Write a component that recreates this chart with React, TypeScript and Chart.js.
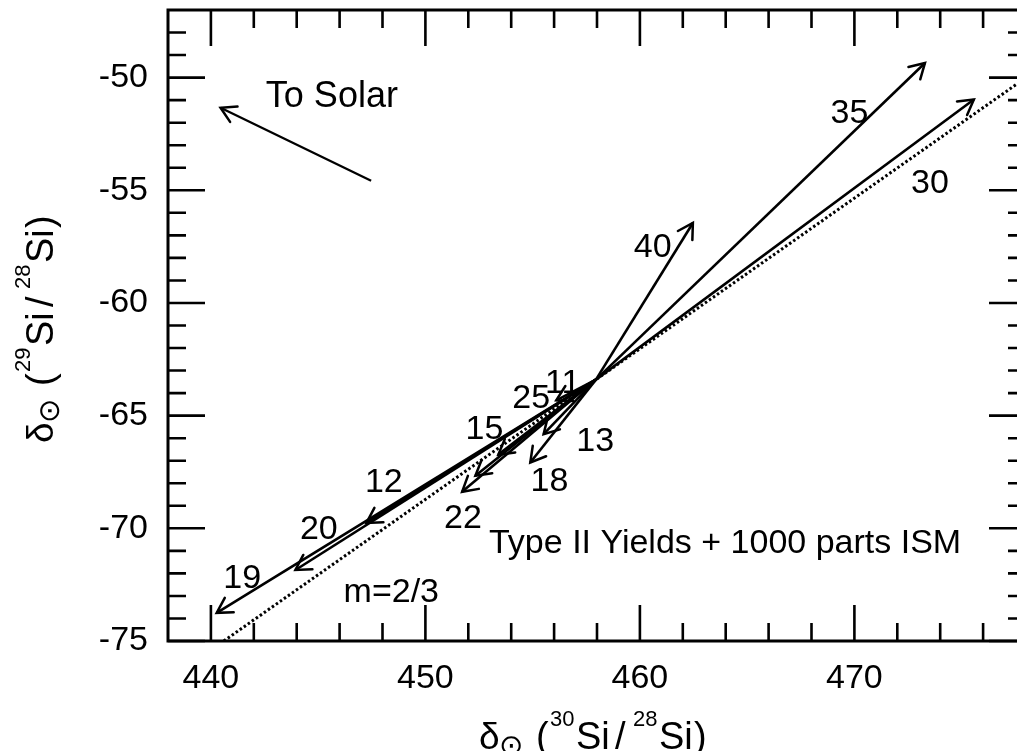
import React, { useEffect, useRef } from "react";
import { Chart, registerables } from "chart.js";

Chart.register(...registerables);

// ---------- data ----------
const ORIGIN_X = 457.95;
const ORIGIN_Y = -63.4;

const ARROW_LABELS = ["35", "30", "40", "11", "25", "15", "13", "18", "22", "12", "20", "19"];
const ARROW_END_X = [473.29, 475.57, 462.47, 456.1, 453.4, 452.33, 455.51, 454.89, 451.71, 447.25, 443.94, 440.27];
const ARROW_END_Y = [-49.35, -50.97, -56.45, -64.32, -66.73, -67.67, -65.82, -67.08, -68.38, -69.76, -71.85, -73.75];

// label anchor (text centre) for each arrow label
const ARROW_LABEL_X = [469.77, 473.52, 460.6, 456.4, 454.93, 452.75, 457.92, 455.78, 451.75, 448.06, 445.03, 441.46];
const ARROW_LABEL_Y = [-51.46, -54.59, -57.41, -63.44, -64.14, -65.52, -66.04, -67.83, -69.46, -67.87, -69.95, -72.11];

const SOLAR_X = [447.47, 440.45];
const SOLAR_Y = [-54.58, -51.34];

const SLOPE_X = [440.6, 478];
const SLOPE_Y = [-75.0, -50.0];

const X_MIN = 438;
const X_MAX = 478;
const Y_MIN = -75;
const Y_MAX = -47;

const X_TICKS = [440, 450, 460, 470];
const X_MINOR = [442, 444, 446, 448, 452, 454, 456, 458, 462, 464, 466, 468, 472, 474, 476];
const Y_TICKS = [-75, -70, -65, -60, -55, -50];
const Y_MINOR = [-74, -73, -72, -71, -69, -68, -67, -66, -64, -63, -62, -61, -59, -58, -57, -56, -54, -53, -52, -51, -49, -48];

const NOTE_TEXT = ["To Solar", "m=2/3", "Type II Yields + 1000 parts ISM"];
const NOTE_X = [445.64, 448.41, 463.97];
const NOTE_Y = [-50.75, -72.74, -70.58];
const NOTE_SIZE = [36, 34, 34];

// ---------- styles ----------
const FONT = '"Liberation Sans", Arial, Helvetica, sans-serif';
const SYM_FONT = '"DejaVu Sans", sans-serif';

type Run = { t: string; size: number; dx: number; dy: number; font?: string };
const makeTitle = (a: string, b: string): Run[] => [
  { t: "δ", size: 37, dx: 0, dy: 0 },
  { t: "⊙", size: 29, dx: 20, dy: 6, font: SYM_FONT },
  { t: "(", size: 38, dx: 57, dy: 0 },
  { t: a, size: 22, dx: 71, dy: -23 },
  { t: "Si", size: 38, dx: 97, dy: 0 },
  { t: "/", size: 38, dx: 136, dy: 0 },
  { t: b, size: 22, dx: 154, dy: -23 },
  { t: "Si", size: 38, dx: 180, dy: 0 },
  { t: ")", size: 38, dx: 215, dy: 0 },
];
const X_TITLE = makeTitle("30", "28");
const Y_TITLE = makeTitle("29", "28");

function drawRuns(ctx: CanvasRenderingContext2D, runs: Run[]) {
  for (const r of runs) {
    ctx.font = `${r.size}px ${r.font || FONT}`;
    ctx.fillText(r.t, r.dx, r.dy);
  }
}

const decorPlugin = {
  id: "decor",
  afterDatasetsDraw(chart: any) {
    const { ctx, chartArea: a } = chart;
    const xs = chart.scales.x;
    const ys = chart.scales.y;
    ctx.save();
    ctx.strokeStyle = "#000";
    ctx.fillStyle = "#000";

    // arrow heads
    ctx.lineWidth = 2.5;
    ctx.lineCap = "round";
    ctx.lineJoin = "miter";
    chart.data.datasets.forEach((ds: any, i: number) => {
      if (!ds.arrow) return;
      const pts = chart.getDatasetMeta(i).data;
      const p0 = pts[0];
      const p1 = pts[pts.length - 1];
      const ang = Math.atan2(p0.y - p1.y, p0.x - p1.x);
      const L = 17;
      const h = Math.PI / 6;
      ctx.beginPath();
      ctx.moveTo(p1.x + L * Math.cos(ang + h), p1.y + L * Math.sin(ang + h));
      ctx.lineTo(p1.x, p1.y);
      ctx.lineTo(p1.x + L * Math.cos(ang - h), p1.y + L * Math.sin(ang - h));
      ctx.stroke();
    });

    // frame
    ctx.lineCap = "butt";
    ctx.lineWidth = 3;
    ctx.strokeRect(a.left, a.top, a.right - a.left, a.bottom - a.top);

    // ticks (inward)
    ctx.lineWidth = 2.6;
    const xTick = (v: number, len: number) => {
      const px = xs.getPixelForValue(v);
      ctx.beginPath();
      ctx.moveTo(px, a.bottom);
      ctx.lineTo(px, a.bottom - len);
      ctx.moveTo(px, a.top);
      ctx.lineTo(px, a.top + len);
      ctx.stroke();
    };
    const yTick = (v: number, len: number) => {
      const py = ys.getPixelForValue(v);
      ctx.beginPath();
      ctx.moveTo(a.left, py);
      ctx.lineTo(a.left + len, py);
      ctx.moveTo(a.right, py);
      ctx.lineTo(a.right - len, py);
      ctx.stroke();
    };
    X_TICKS.forEach((v) => xTick(v, 36));
    X_MINOR.forEach((v) => xTick(v, 18));
    Y_TICKS.forEach((v) => yTick(v, 37));
    Y_MINOR.forEach((v) => yTick(v, 18));

    // arrow labels
    ctx.textAlign = "center";
    ctx.textBaseline = "alphabetic";
    ctx.font = `34px ${FONT}`;
    ARROW_LABELS.forEach((t, i) => {
      const px = xs.getPixelForValue(ARROW_LABEL_X[i]);
      const py = ys.getPixelForValue(ARROW_LABEL_Y[i]);
      ctx.fillText(t, px, py + 0.355 * 34);
    });
    NOTE_TEXT.forEach((t, i) => {
      const s = NOTE_SIZE[i];
      ctx.font = `${s}px ${FONT}`;
      const px = xs.getPixelForValue(NOTE_X[i]);
      const py = ys.getPixelForValue(NOTE_Y[i]);
      ctx.fillText(t, px, py + 0.355 * s);
    });

    // axis titles
    ctx.textAlign = "left";
    ctx.save();
    ctx.translate(479, 749);
    drawRuns(ctx, X_TITLE);
    ctx.restore();
    ctx.save();
    ctx.translate(53, 443);
    ctx.rotate(-Math.PI / 2);
    drawRuns(ctx, Y_TITLE);
    ctx.restore();

    ctx.restore();
  },
};

export default function App() {
  const ref = useRef<HTMLCanvasElement | null>(null);

  useEffect(() => {
    if (!ref.current) return;
    const arrowSets = ARROW_END_X.map((ex, i) => ({
      label: ARROW_LABELS[i],
      arrow: true,
      data: [
        { x: ORIGIN_X, y: ORIGIN_Y },
        { x: ex, y: ARROW_END_Y[i] },
      ],
      showLine: true,
      borderColor: "#000",
      borderWidth: 2.6,
      pointRadius: 0,
      clip: 0,
    }));
    const solar = {
      label: "To Solar",
      arrow: true,
      data: SOLAR_X.map((x, i) => ({ x, y: SOLAR_Y[i] })),
      showLine: true,
      borderColor: "#000",
      borderWidth: 2.3,
      pointRadius: 0,
      clip: 0,
    };
    const slope = {
      label: "m=2/3",
      data: SLOPE_X.map((x, i) => ({ x, y: SLOPE_Y[i] })),
      showLine: true,
      borderColor: "#000",
      borderWidth: 3,
      borderDash: [2.5, 2.4],
      pointRadius: 0,
      clip: 0,
    };

    const chart = new Chart(ref.current, {
      type: "scatter",
      data: { datasets: [slope, ...arrowSets, solar] as any },
      options: {
        animation: false,
        responsive: false,
        devicePixelRatio: 1,
        layout: { padding: { top: 10, right: 14, left: 0, bottom: 0 } },
        plugins: { legend: { display: false }, tooltip: { enabled: false } },
        events: [],
        scales: {
          x: {
            type: "linear",
            min: X_MIN,
            max: X_MAX,
            grid: { display: false, drawTicks: false },
            border: { display: false },
            afterBuildTicks: (s: any) => {
              s.ticks = X_TICKS.map((v) => ({ value: v }));
            },
            afterFit: (s: any) => {
              s.height = 110;
              s.paddingLeft = 0;
              s.paddingRight = 0;
            },
            ticks: {
              color: "#000",
              font: { family: FONT, size: 34 },
              padding: 17,
              maxRotation: 0,
              autoSkip: false,
              callback: (v: any) => String(v),
            },
          },
          y: {
            type: "linear",
            min: Y_MIN,
            max: Y_MAX,
            grid: { display: false, drawTicks: false },
            border: { display: false },
            afterBuildTicks: (s: any) => {
              s.ticks = Y_TICKS.map((v) => ({ value: v }));
            },
            afterFit: (s: any) => {
              s.width = 168;
              s.paddingTop = 0;
              s.paddingBottom = 0;
            },
            ticks: {
              color: "#000",
              font: { family: FONT, size: 34 },
              padding: 20,
              autoSkip: false,
              callback: (v: any) => String(v),
            },
          },
        },
      } as any,
      plugins: [decorPlugin],
    });
    return () => chart.destroy();
  }, []);

  return (
    <div
      style={{
        position: "fixed",
        left: 0,
        top: 0,
        width: 1017,
        height: 751,
        overflow: "hidden",
        background: "#fff",
      }}
    >
      <canvas ref={ref} width={1040} height={751} style={{ display: "block", width: 1040, height: 751 }} />
    </div>
  );
}
